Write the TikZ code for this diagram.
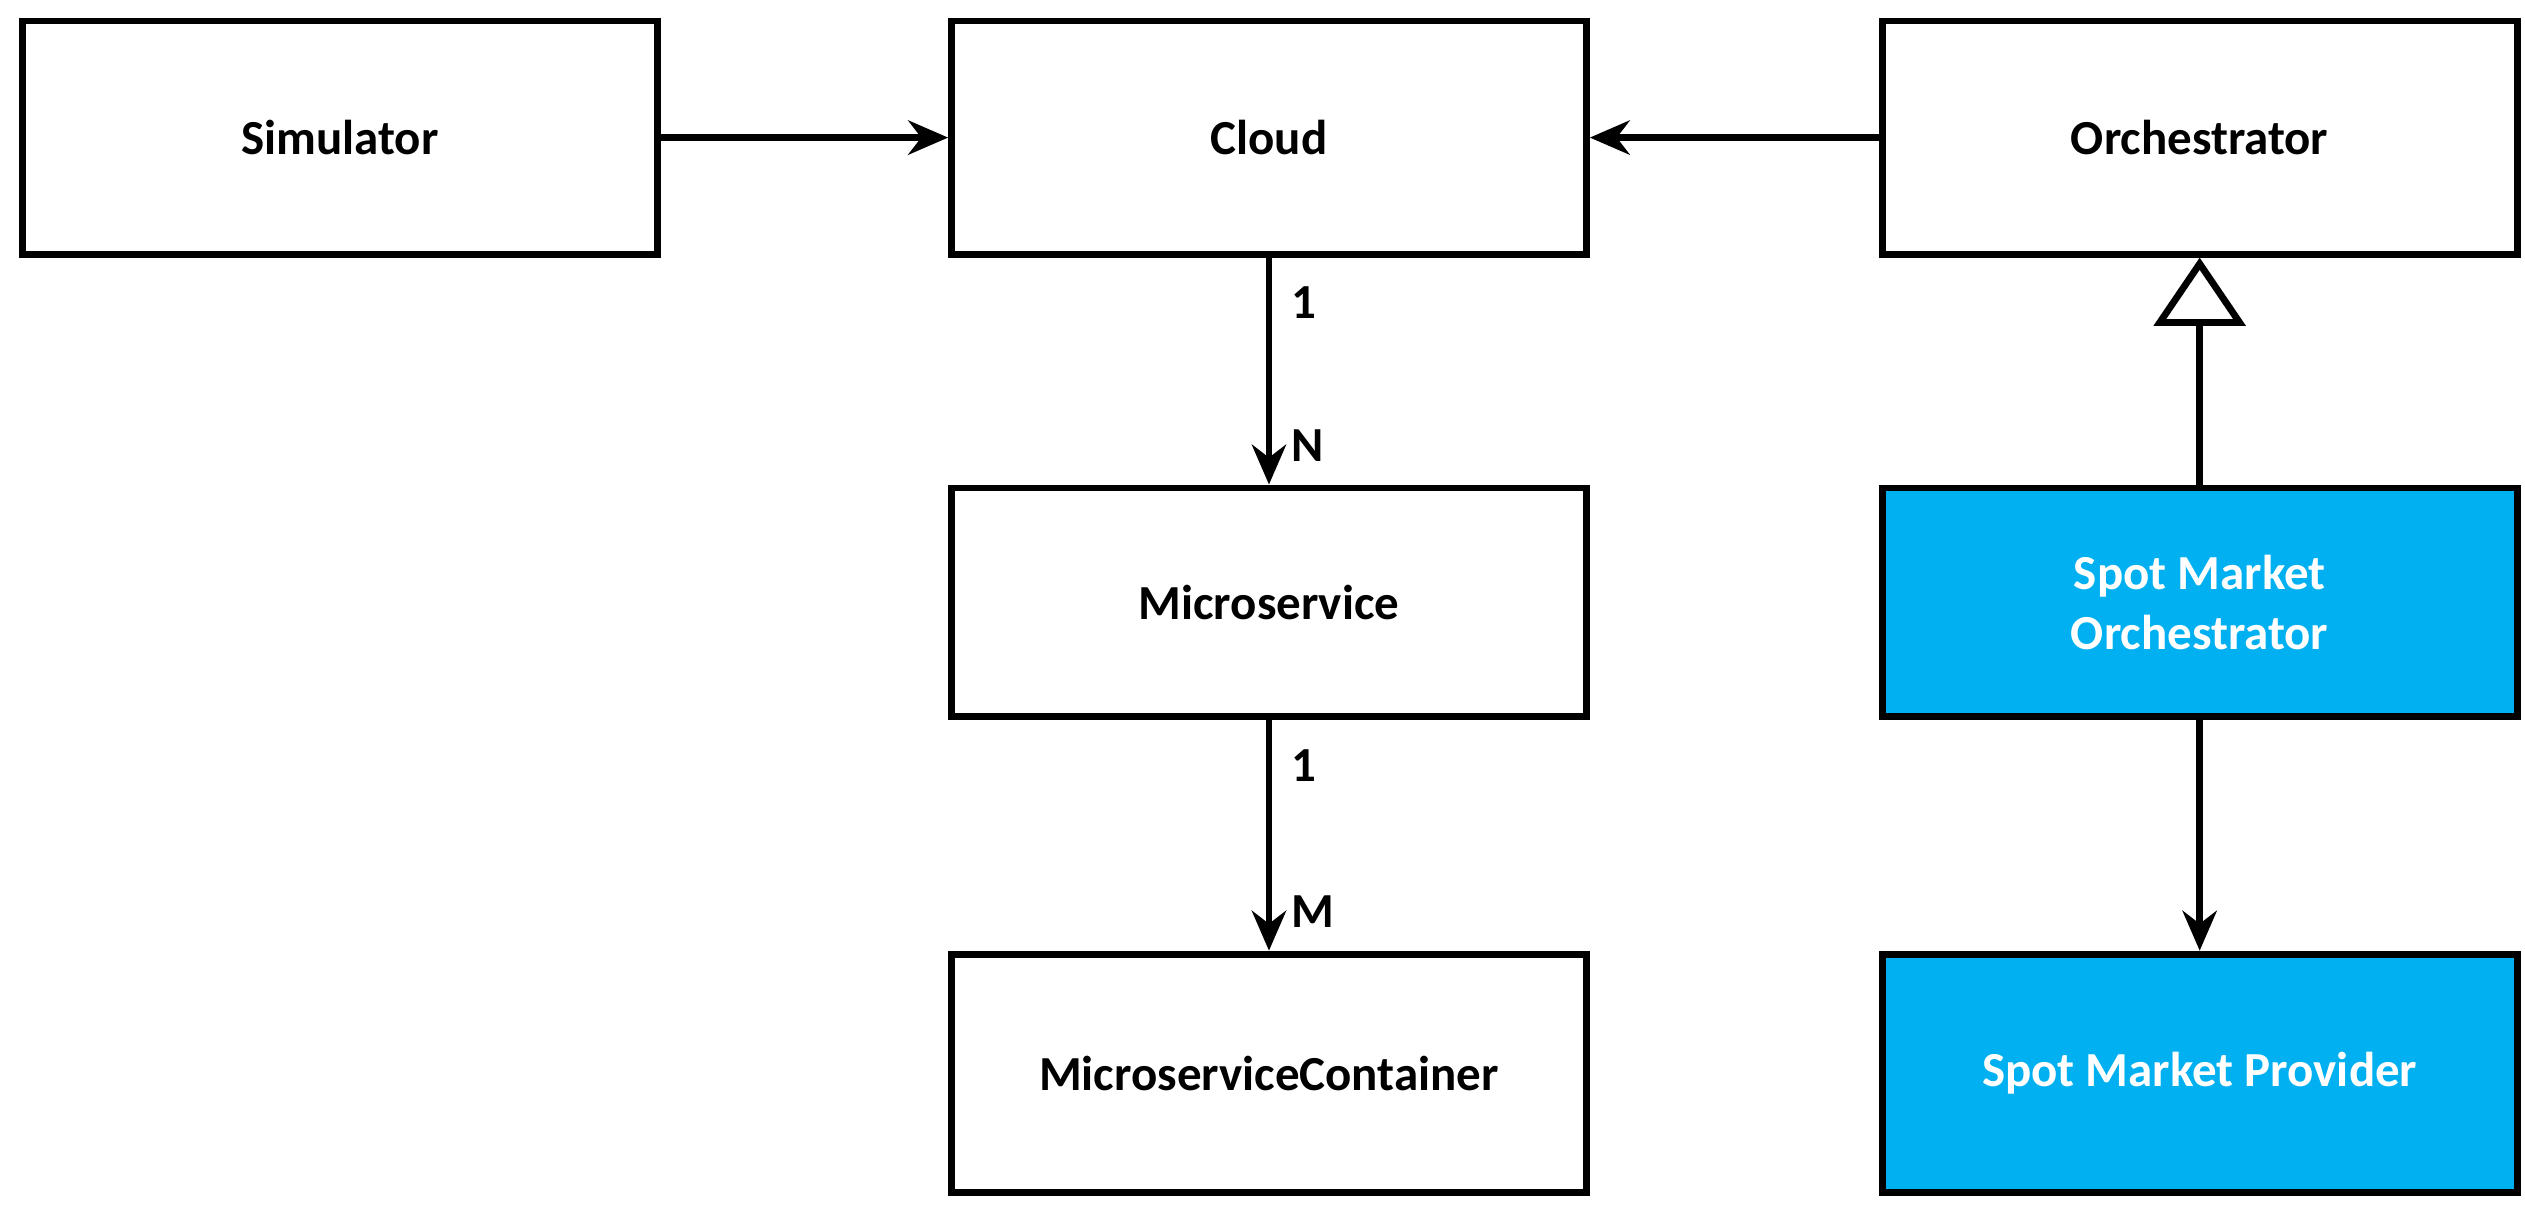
\documentclass[tikz,border=0pt]{standalone}
\usepackage{fontspec}
\setmainfont{Carlito}
\usetikzlibrary{positioning,arrows.meta}
\definecolor{spotblue}{HTML}{00B0F0}
\tikzset{
	class/.style = {
		draw, rectangle, line width=1.2pt, fill=white, minimum width=3.92cm,
		minimum height=1.44cm, align=center, font=\fontsize{8.6}{10.5}\selectfont\bfseries
	}
}
\tikzset{
	spot/.style = {
		class, fill=spotblue, text=white
	}
}
\tikzset{
	association/.style = {
		line width=1.2pt, -{Stealth[length=7pt,width=6pt]}
	}
}
\tikzset{
	generalization/.style = {
		line width=1.2pt, -{Triangle[open,length=12pt,width=16pt,line width=1.2pt]}
	}
}
\tikzset{
	label/.style = {
		font=\fontsize{8.6}{10.5}\selectfont\bfseries
	}
}

\begin{document}
\begin{tikzpicture}[x=0.01cm,y=-0.01cm]
	\useasboundingbox (0,0) rectangle (1560,748);
	\node[class](Simulator) at (210,85){Simulator};
	\node[class](Cloud) at (784,85){Cloud};
	\node[class](Orchestrator) at (1359,85){Orchestrator};
	\node[class, minimum height=1.41cm](Microservice) at (784,372){Microservice};
	\node[class, minimum height=1.47cm](MicroserviceContainer) at (784,663){MicroserviceContainer};
	\node[spot, minimum height=1.41cm](SpotOrchestrator) at (1359,372){Spot Market\\Orchestrator};
	\node[spot, minimum height=1.47cm](SpotProvider) at (1359,663){Spot Market Provider};

	\draw[association] (Simulator) -- (Cloud);
	\draw[association] (Orchestrator) -- (Cloud);
	\draw[association] (Cloud) -- node[label, pos=0.2, right=0.15] {1} node[label, pos=0.83, right=0.15] {N} (Microservice);
	\draw[association] (Microservice) -- node[label, pos=0.2, right=0.15] {1} node[label, pos=0.83, right=0.15] {M} (MicroserviceContainer);
	\draw[generalization] (SpotOrchestrator) -- (Orchestrator);
	\draw[association] (SpotOrchestrator) -- (SpotProvider);
\end{tikzpicture}
\end{document}
